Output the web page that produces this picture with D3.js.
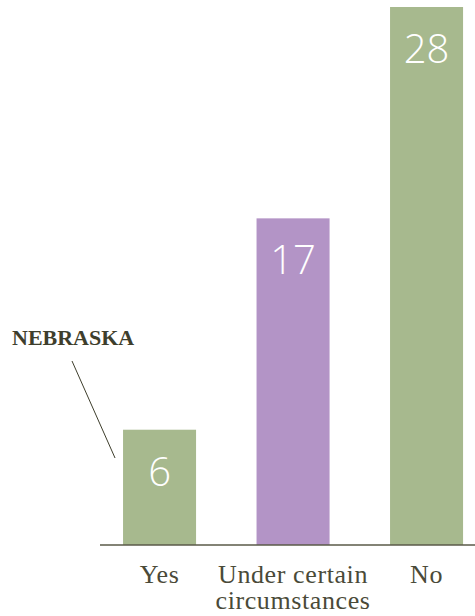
<!DOCTYPE html>
<html>
<head>
<meta charset="utf-8">
<script src="https://d3js.org/d3.v7.min.js"></script>
<style>
  body { margin: 0; background: #fff; }
</style>
</head>
<body>
<svg id="chart" width="475" height="616"></svg>
<script>
const categories = ["Yes", "Under certain circumstances", "No"];
const labelLines = [["Yes"], ["Under certain", "circumstances"], ["No"]];
const values = [6, 17, 28];
const barColors = ["#a7b98e", "#b394c6", "#a7b98e"];
const calloutText = "NEBRASKA";

const svg = d3.select("#chart");
const baseY = 545;

const x = d3.scaleBand()
  .domain(categories)
  .range([92.8, 493.3])
  .paddingInner(0.453)
  .paddingOuter(0.2265);

const y = d3.scaleLinear().domain([0, 28]).range([baseY, 7]);

// bars
svg.selectAll("rect.bar").data(values).enter().append("rect")
  .attr("class", "bar")
  .attr("x", (d, i) => x(categories[i]))
  .attr("y", d => y(d))
  .attr("width", x.bandwidth())
  .attr("height", d => baseY - y(d))
  .attr("fill", (d, i) => barColors[i]);

// value labels inside bars
svg.selectAll("text.val").data(values).enter().append("text")
  .attr("class", "val")
  .attr("x", (d, i) => x(categories[i]) + x.bandwidth() / 2)
  .attr("y", d => y(d) + 56)
  .attr("text-anchor", "middle")
  .attr("fill", "#fff")
  .style("font-family", "'Open Sans', sans-serif")
  .style("font-weight", 300)
  .style("font-size", "40px")
  .text(d => d);

// baseline
svg.append("line")
  .attr("x1", 100).attr("x2", 475)
  .attr("y1", baseY).attr("y2", baseY)
  .attr("stroke", "#5a5a48")
  .attr("stroke-width", 1.5);

// category labels
labelLines.forEach((lines, i) => {
  const t = svg.append("text")
    .attr("x", x(categories[i]) + x.bandwidth() / 2)
    .attr("y", 583)
    .attr("text-anchor", "middle")
    .attr("fill", "#4a4a38")
    .style("font-family", "'Liberation Serif', serif")
    .style("font-size", "26px")
    .style("letter-spacing", "0.6px");
  lines.forEach((l, j) => {
    t.append("tspan")
      .attr("x", x(categories[i]) + x.bandwidth() / 2)
      .attr("dy", j === 0 ? 0 : 26)
      .text(l);
  });
});

// callout
svg.append("text")
  .attr("x", 12)
  .attr("y", 345)
  .attr("fill", "#3e3e2c")
  .style("font-family", "'Liberation Serif', serif")
  .style("font-weight", "bold")
  .style("font-size", "22px")
  .text(calloutText);

svg.append("line")
  .attr("x1", 72).attr("y1", 361)
  .attr("x2", x(categories[0]) - 8).attr("y2", 458)
  .attr("stroke", "#3e3e2c")
  .attr("stroke-width", 1);
</script>
</body>
</html>
